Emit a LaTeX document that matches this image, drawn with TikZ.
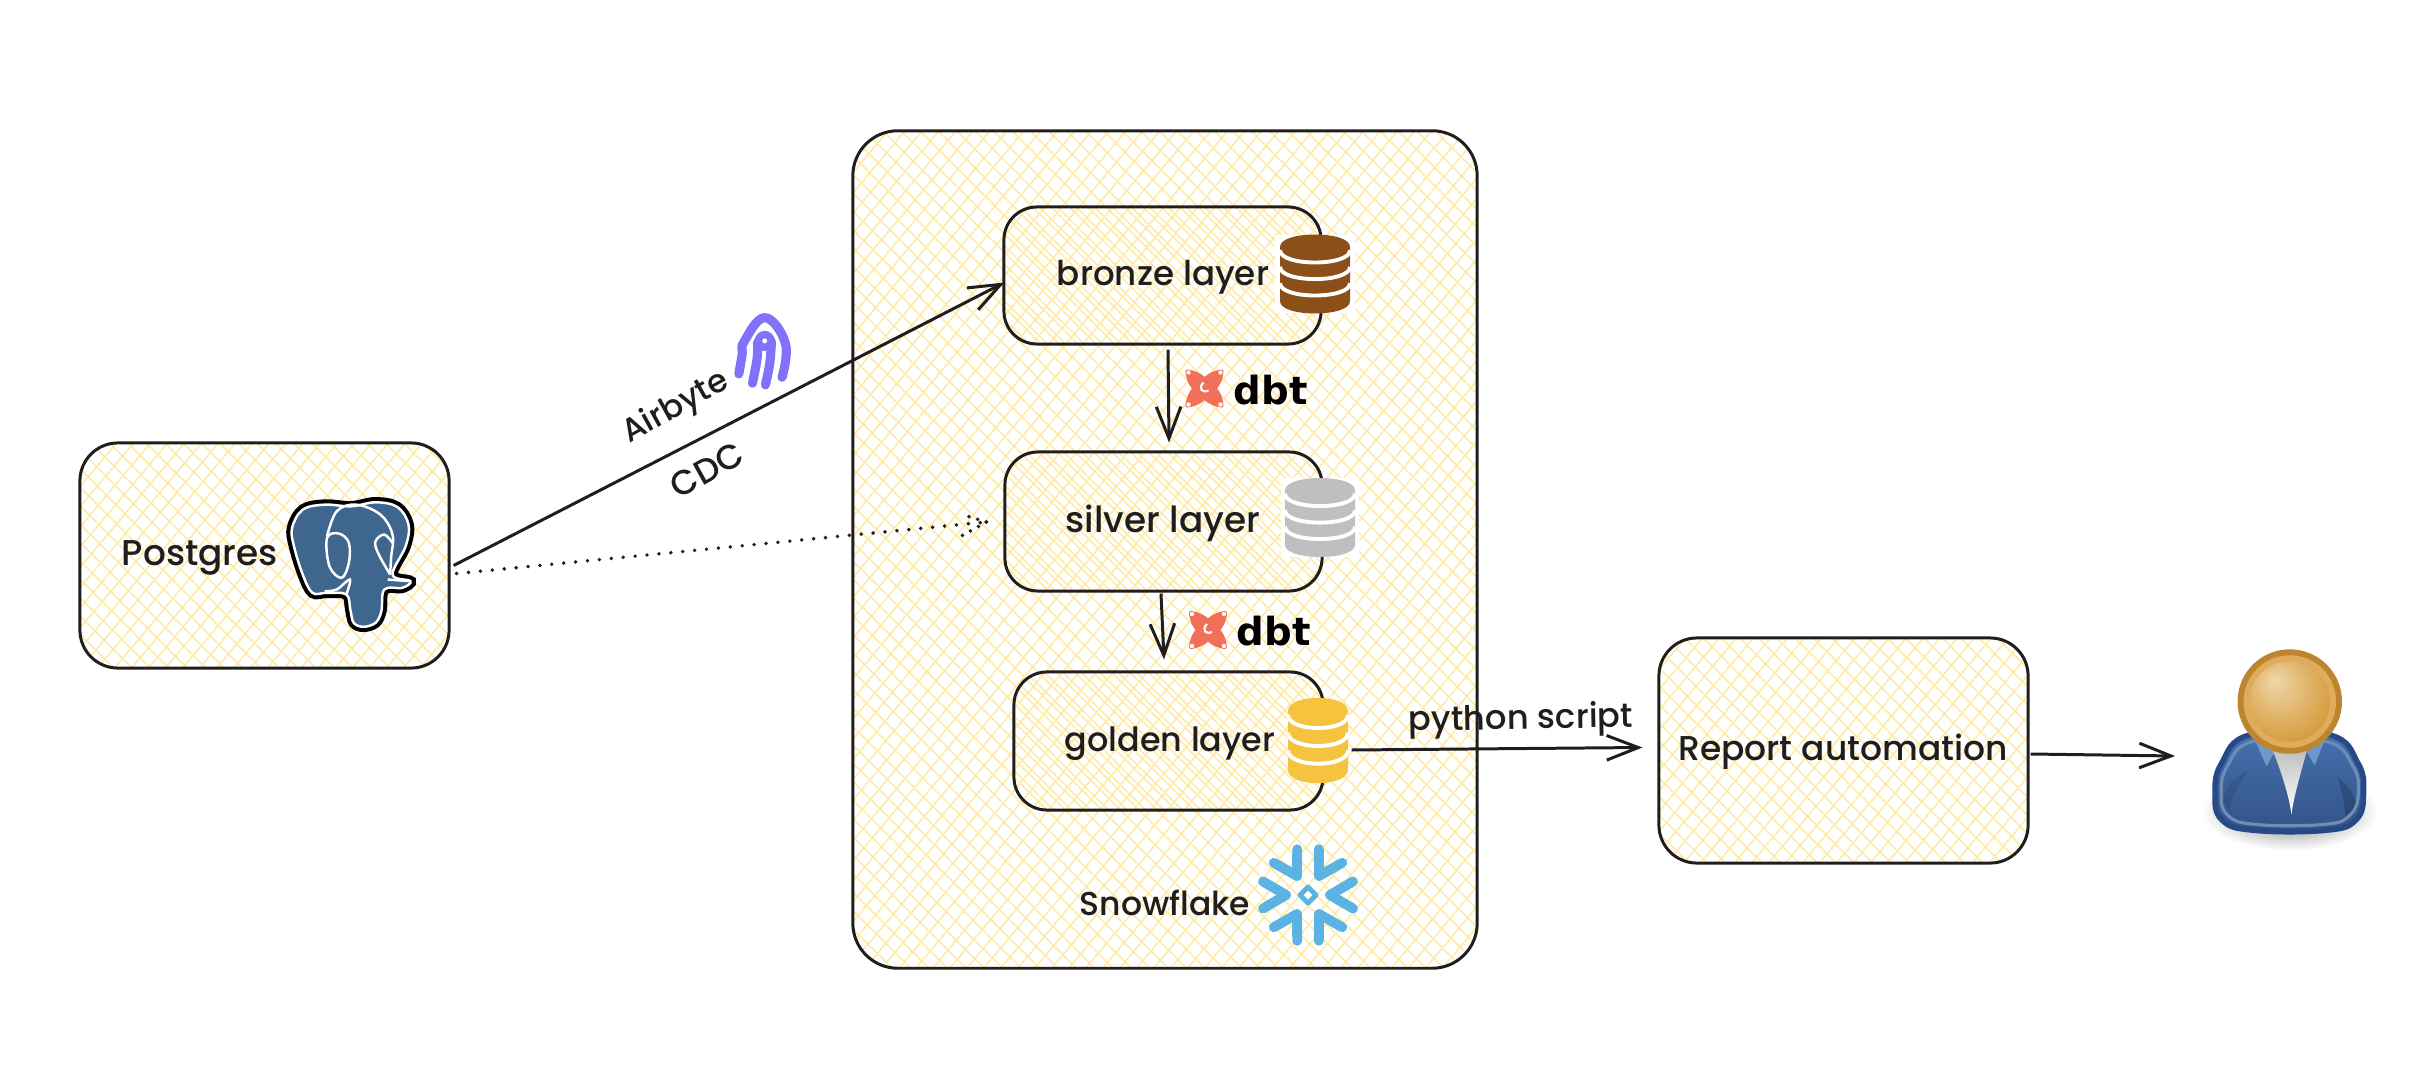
\documentclass[tikz,border=0pt]{standalone}
\usepackage{fontspec}
\usetikzlibrary{arrows.meta,patterns.meta}

\newfontfamily\handfont{Poppins Medium}
\newfontfamily\dbtfont{DejaVu Sans}

\definecolor{hatchyellow}{HTML}{FEEBA8}
\definecolor{inkline}{HTML}{1E1E1E}
\definecolor{bronzefill}{HTML}{8B4F1A}
\definecolor{silverfill}{HTML}{BFBFBF}
\definecolor{goldfill}{HTML}{F6C33F}
\definecolor{dbtred}{HTML}{F0705A}
\definecolor{flakeblue}{HTML}{5AB3E3}
\definecolor{airpurple}{HTML}{8272FB}
\definecolor{pgblue}{HTML}{3E668F}
\definecolor{suittop}{HTML}{4872B0}
\definecolor{suitbottom}{HTML}{325286}
\definecolor{suitedge}{HTML}{254A86}
\definecolor{suitrim}{HTML}{6E8CB8}
\definecolor{collarblue}{HTML}{6F97C8}
\definecolor{headrim}{HTML}{BD8530}
\definecolor{headring}{HTML}{E0AC5C}

\pgfdeclareradialshading{headshade}{\pgfpoint{-10bp}{14bp}}{%
  rgb(0bp)=(.94,.84,.66); rgb(30bp)=(.84,.62,.26); rgb(50bp)=(.82,.60,.24)}

\tikzset{
  hatchcross/.style={
    preaction={pattern={Lines[angle=50,distance=3.7pt,line width=.45pt]},pattern color=hatchyellow},
    preaction={pattern={Lines[angle=-45,distance=3.7pt,line width=.45pt]},pattern color=hatchyellow}},
  sysbox/.style={hatchcross,draw=inkline,line width=.85pt,rounded corners=.38cm,inner sep=0pt},
  layerbox/.style={draw=inkline,line width=.85pt,rounded corners=.33cm,inner sep=0pt,
    preaction={pattern={Lines[angle=-45,distance=3.7pt,yshift=1.85pt,line width=.45pt]},pattern color=hatchyellow}},
  handtext/.style={font=\handfont\fontsize{#1}{12}\selectfont,text=inkline,inner sep=0pt},
  handtext/.default=10,
  dbttext/.style={font=\dbtfont\bfseries\fontsize{11}{13}\selectfont,anchor=base west,inner sep=0pt},
  flow/.style={draw=inkline,line width=.85pt,-{Straight Barb[length=9pt,width=7pt]}},
  dotflow/.style={draw=inkline,line width=1.1pt,line cap=round,dash pattern=on 0pt off #1},
  dotflow/.default=3.4pt,
  dbstack/.pic={
    \fill[#1] (-35,-27.2) -- (-35,27.2) .. controls (-35,43.6) and (35,43.6) .. (35,27.2)
      -- (35,-27.2) .. controls (35,-43.6) and (-35,-43.6) .. cycle;
    \foreach \yc in {-23.8,-7.2,9.2}
      \draw[white,line width=1.1pt] (-35,\yc) .. controls (-35,\yc+16.4) and (35,\yc+16.4) .. (35,\yc);
  },
  dbtlogo/.pic={
    \filldraw[dbtred,line width=1.2pt,line join=round] (-17,-17) to[bend left=15] (0,-9)
      to[bend left=15] (17,-17) to[bend left=15] (10,0) to[bend left=15] (17,17)
      to[bend left=15] (0,9) to[bend left=15] (-17,17) to[bend left=15] (-10,0)
      to[bend left=15] cycle;
    \foreach \cx/\cy in {-16/-16,16/-16,16/16,-16/16}
      \fill[white] (\cx,\cy) circle [radius=2.2];
    \draw[white,line width=.6pt] (-1,-6) .. controls (-7,0) and (-2,5) .. (4,2);
  },
  flakelogo/.pic={
    \foreach \a in {0,60,...,300}
      \draw[flakeblue,line width=2.8pt,line cap=round,line join=round,rotate=\a]
        (45,13.5) -- (22,0) -- (45,-13.5);
    \draw[flakeblue,line width=1.4pt,line join=round] (-8,0) -- (0,-8) -- (8,0) -- (0,8) -- cycle;
  }
}

\begin{document}
\begin{tikzpicture}[x=.01cm,y=-.01cm]
\useasboundingbox (0,0) rectangle (2418,1088);

% boxes
\node[sysbox,rounded corners=.45cm,minimum width=6.24cm,minimum height=8.37cm] (snowflake) at (1165,549.5) {};
\node[sysbox,minimum width=3.69cm,minimum height=2.25cm] (postgres) at (264.5,555.5) {};
\node[sysbox,minimum width=3.69cm,minimum height=2.25cm] (report) at (1843.5,750.5) {};
\node[layerbox,minimum width=3.17cm,minimum height=1.37cm] (bronze) at (1162.5,275.5) {};
\node[layerbox,minimum width=3.17cm,minimum height=1.39cm] (silver) at (1163.5,521.5) {};
\node[layerbox,minimum width=3.09cm,minimum height=1.38cm] (golden) at (1168.5,741) {};

% texts
\node[handtext=10.2,anchor=base] (postgreslabel) at (200,565) {Postgres};
\node[handtext=9.7,anchor=base] (bronzelabel) at (1163,285) {bronze layer};
\node[handtext=10.2,anchor=base] (silverlabel) at (1163,532) {silver layer};
\node[handtext=9.5,anchor=base] (goldenlabel) at (1170,751) {golden layer};
\node[handtext=9.4,anchor=base] (flakelabel) at (1165,915) {Snowflake};
\node[handtext=9.8,anchor=base] (reportlabel) at (1843,760) {Report automation};
\node[handtext=9.6,anchor=base,rotate=1] (pythonlabel) at (1521,729) {python script};
\node[handtext=9.2,rotate=29] (airbytelabel) at (676,408) {Airbyte};
\node[handtext=9.8,rotate=29] (cdclabel) at (707,470) {CDC};

% connectors
\coordinate (user) at (2175,756);
\coordinate (dottip) at ([shift={(-17,.5)}]silver.west);
\draw[flow] ([shift={(3,10)}]postgres.east) -- ([shift={(2,7)}]bronze.west);
\draw[dotflow] ([shift={(6,18)}]postgres.east) -- (dottip);
\draw[dotflow=2.6pt] (dottip) -- ++(-26,-8);
\draw[dotflow=2.6pt] (dottip) -- ++(-25,14);
\draw[flow] ([shift={(5.5,4)}]bronze.south) -- ([shift={(5.5,-8)}]silver.north);
\draw[flow] ([shift={(-2.5,1)}]silver.south) -- ([shift={(-4.5,-11)}]golden.north);
\draw[flow] ([shift={(27,9)}]golden.east) -- ([shift={(-15,-3)}]report.west);
\draw[flow] ([shift={(1,3.5)}]report.east) -- (user);

% database icons
\fill[white] (1275,235) rectangle (1355,313);
\fill[white] (1281,478) rectangle (1359,557);
\pic at (1315,274) {dbstack=bronzefill};
\pic at (1320,517.5) {dbstack=silverfill};
\pic[xscale=.857,yscale=1.08] at (1318,740.5) {dbstack=goldfill};

% dbt
\pic at (1204.5,388.5) {dbtlogo};
\node[dbttext] (dbtfirst) at (1233,404) {dbt};
\pic at (1208,630) {dbtlogo};
\node[dbttext] (dbtsecond) at (1236,645.5) {dbt};

% snowflake
\pic at (1308,895) {flakelogo};

% elephant
\begin{scope}[shift={(60,280)},x=.004847cm,y=-.003333cm]
\filldraw[draw=white,fill=pgblue,line width=.7pt,preaction={draw=black,line width=3pt}]
  plot[smooth cycle,tension=.6] coordinates {(478,745) (500,690) (545,675) (600,680) (650,668)
    (695,682) (718,735) (712,800) (685,885) (722,905) (705,925) (668,930) (662,995) (650,1030)
    (625,1042) (605,1030) (598,990) (590,945) (550,940) (520,940) (500,885) (482,800)};
\draw[white,line width=.7pt] plot[smooth,tension=.6] coordinates {(550,770) (570,695) (610,675) (660,705) (685,765) (682,835) (680,885)};
\draw[white,line width=.7pt] plot[smooth cycle,tension=.6] coordinates {(550,775) (575,762) (595,790) (595,850) (580,895) (555,860)};
\draw[white,line width=.7pt] plot[smooth,tension=.6] coordinates {(680,885) (655,820) (650,785) (668,765) (685,790)};
\draw[white,line width=.7pt] plot[smooth,tension=.6] coordinates {(545,935) (570,930) (597,900) (590,945)};
\draw[white,line width=.7pt] (675,900) -- (720,905);
\end{scope}

% airbyte
\begin{scope}[shift={(620,300)},x=.003333cm,y=-.003333cm]
\draw[airpurple,line width=2.6pt,line cap=round] plot[smooth,tension=.7] coordinates {(487,232) (497,130) (435,53) (373,125) (367,165) (357,222)};
\draw[airpurple,line width=2.6pt,line cap=round] plot[smooth,tension=.7] coordinates {(413,128) (412,175) (398,250)};
\draw[airpurple,line width=2.1pt] (435,123) circle [radius=19];
\draw[airpurple,line width=2.6pt,line cap=round] plot[smooth,tension=.7] coordinates {(455,125) (450,190) (437,255)};
\end{scope}

% person
\begin{scope}[shift={(2140,620)},x=.003333cm,y=-.003333cm]
\shade[inner color=black!55,outer color=white] (450,575) ellipse [x radius=265,y radius=118];
\draw[suitedge,line width=1.5pt,top color=suittop,bottom color=suitbottom]
  plot[smooth cycle,tension=.7] coordinates {(225,520) (245,430) (330,345) (570,345) (655,430)
    (672,520) (650,600) (560,632) (340,632) (245,600)};
\fill[black,opacity=.18] (592,470) .. controls (610,520) and (615,560) .. (618,600) -- (652,570) .. controls (650,540) and (640,510) .. cycle;
\fill[black,opacity=.1] (330,450) .. controls (295,490) and (275,530) .. (268,575) -- (248,540) .. controls (255,510) and (270,480) .. cycle;
\draw[suitrim,line width=.9pt]
  plot[smooth cycle,tension=.7] coordinates {(244,520) (262,440) (340,365) (560,365) (640,440)
    (656,520) (632,585) (555,614) (345,614) (262,585)};
\fill[collarblue] (345,360) -- (405,395) -- (380,440) -- cycle;
\fill[collarblue] (555,360) -- (500,395) -- (525,437) -- cycle;
\shade[top color=black!25,bottom color=white] (398,390) .. controls (430,470) and (450,540) .. (455,585)
  .. controls (460,540) and (480,470) .. (502,390) -- cycle;
\fill[headrim] (450,245) circle [radius=157];
\fill[headring] (450,245) circle [radius=139];
\shade[shading=headshade] (450,245) circle [radius=121];
\end{scope}

\end{tikzpicture}
\end{document}
